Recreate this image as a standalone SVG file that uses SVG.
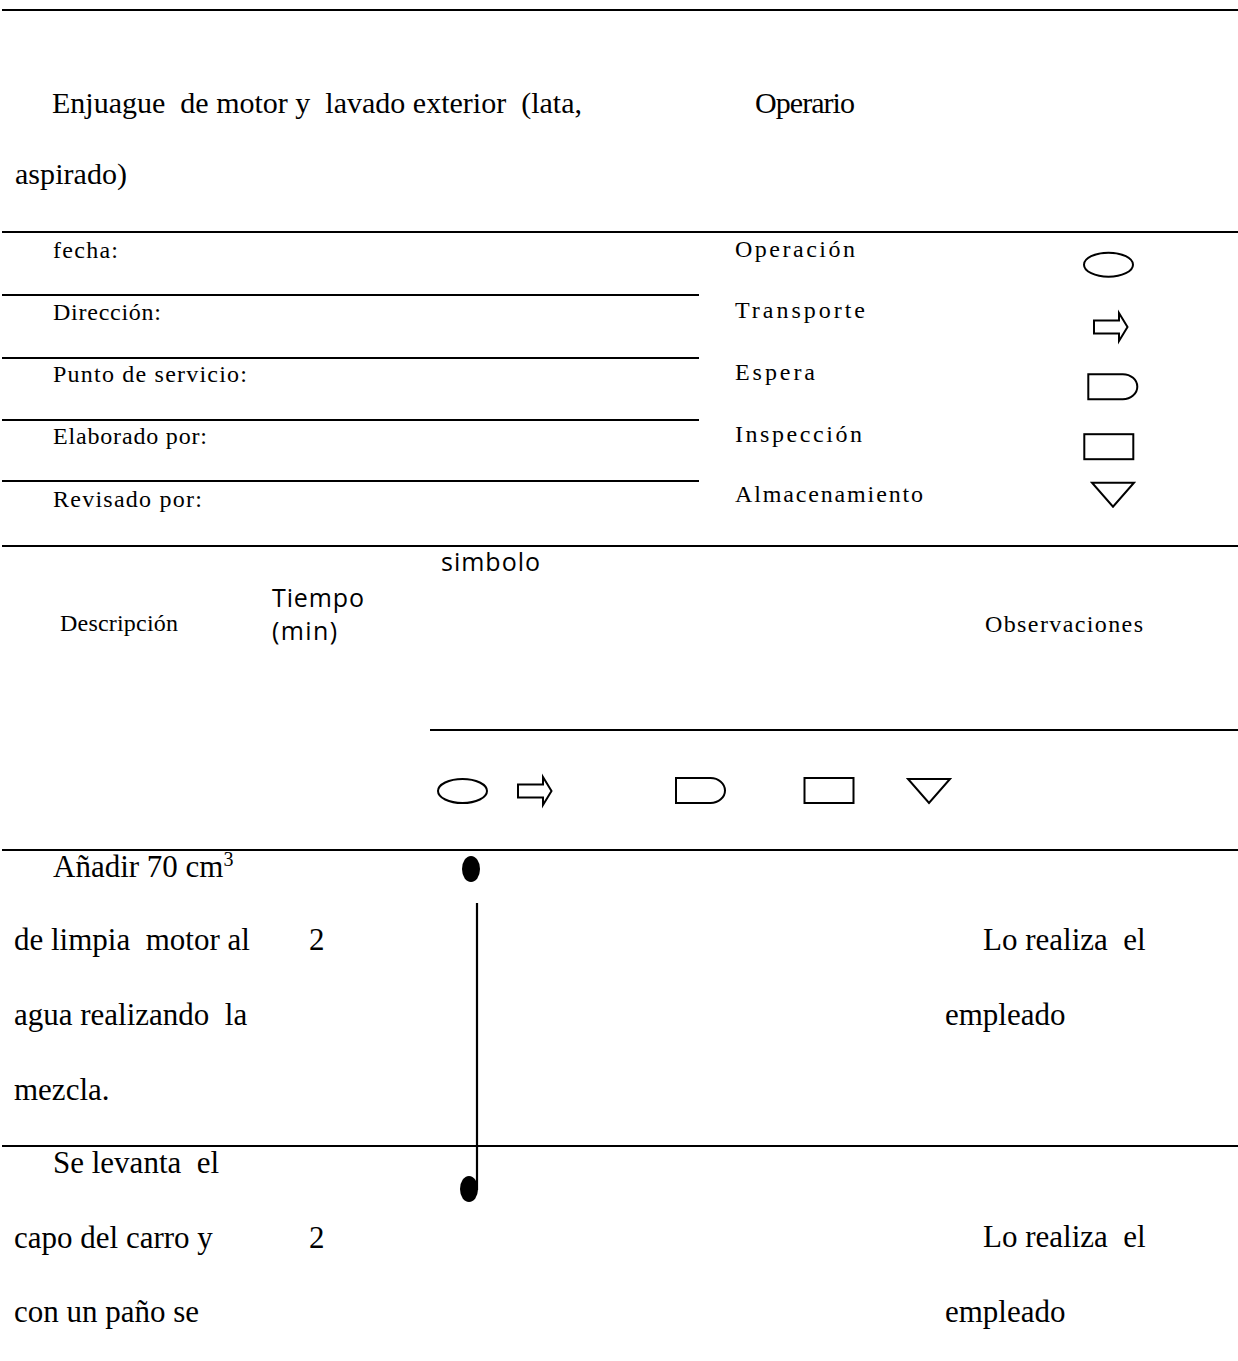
<svg xmlns="http://www.w3.org/2000/svg" xmlns:xlink="http://www.w3.org/1999/xlink" width="1238" height="1361" viewBox="0 0 1238 1361">
  <style>
    .rule { stroke: #000; stroke-width: 2.2; fill: none; }
    .sym { stroke: #000; stroke-width: 2; fill: #fff; }
    .serif { font-family: "Liberation Serif", "Times New Roman", serif; fill: #000; }
    .sans { font-family: "Open Sans", "Liberation Sans", sans-serif; fill: #000; }
    .title { font-size: 30px; }
    .lbl { font-size: 24px; }
    .body { font-size: 31px; }
    .head { font-size: 25px; }
    .dot { fill: #000; stroke: none; }
    .flow { stroke: #000; stroke-width: 2.2; fill: none; }
  </style>
  <defs>
    <!-- process-chart symbols, drawn around their own centre -->
    <ellipse id="s-op" class="sym" cx="0" cy="0" rx="24.5" ry="12"/>
    <path id="s-tr" class="sym" d="M -14 -6.5 H 11 V -14 L 19.5 0 L 11 14 V 6.5 H -14 Z"/>
    <path id="s-wait" class="sym" d="M -24.5 -12.5 H 10 A 14.5 12.5 0 0 1 10 12.5 H -24.5 Z"/>
    <rect id="s-insp" class="sym" x="-24.5" y="-12.5" width="49" height="25"/>
    <path id="s-store" class="sym" d="M -21 -12 L 21 -12 L 0 12 Z"/>
  </defs>

  <rect x="0" y="0" width="1238" height="1361" fill="#fff"/>

  <!-- table rules -->
  <g id="rules">
    <line class="rule" x1="2" y1="10" x2="1238" y2="10"/>
    <line class="rule" x1="2" y1="232" x2="1238" y2="232"/>
    <line class="rule" x1="2" y1="295" x2="699" y2="295"/>
    <line class="rule" x1="2" y1="358" x2="699" y2="358"/>
    <line class="rule" x1="2" y1="420" x2="699" y2="420"/>
    <line class="rule" x1="2" y1="481" x2="699" y2="481"/>
    <line class="rule" x1="2" y1="546" x2="1238" y2="546"/>
    <line class="rule" x1="430" y1="730" x2="1238" y2="730"/>
    <line class="rule" x1="2" y1="850" x2="1238" y2="850"/>
    <line class="rule" x1="2" y1="1146" x2="1238" y2="1146"/>
  </g>

  <!-- heading -->
  <g id="heading">
    <text class="serif title" x="52" y="113" textLength="530" xml:space="preserve">Enjuague  de motor y  lavado exterior  (lata,</text>
    <text class="serif title" x="755" y="113" textLength="100">Operario</text>
    <text class="serif title" x="15" y="184" textLength="112">aspirado)</text>
  </g>

  <!-- form fields -->
  <g id="fields">
    <text class="serif lbl" x="53" y="258" textLength="65">fecha:</text>
    <text class="serif lbl" x="53" y="320" textLength="108">Dirección:</text>
    <text class="serif lbl" x="53" y="382" textLength="194">Punto de servicio:</text>
    <text class="serif lbl" x="53" y="444" textLength="154">Elaborado por:</text>
    <text class="serif lbl" x="53" y="507" textLength="149">Revisado por:</text>
  </g>

  <!-- symbol key -->
  <g id="legend">
    <text class="serif lbl" x="735" y="257" textLength="120">Operación</text>
    <text class="serif lbl" x="735" y="318" textLength="130">Transporte</text>
    <text class="serif lbl" x="735" y="380" textLength="80">Espera</text>
    <text class="serif lbl" x="735" y="442" textLength="127">Inspección</text>
    <text class="serif lbl" x="735" y="502" textLength="188">Almacenamiento</text>
    <use xlink:href="#s-op" x="1108.5" y="264.7"/>
    <use xlink:href="#s-tr" x="1108" y="327"/>
    <use xlink:href="#s-wait" x="1112.8" y="386.7"/>
    <use xlink:href="#s-insp" x="1108.8" y="446.7"/>
    <use xlink:href="#s-store" x="1113" y="494.7"/>
  </g>

  <!-- column headers -->
  <g id="columns">
    <text class="serif lbl" x="60" y="631" textLength="118">Descripción</text>
    <text class="sans head" x="272" y="607" textLength="92">Tiempo</text>
    <text class="sans head" x="272" y="640" textLength="65">(min)</text>
    <text class="sans head" x="441" y="571" textLength="99">simbolo</text>
    <text class="serif lbl" x="985" y="632" textLength="158">Observaciones</text>
    <use xlink:href="#s-op" x="462.5" y="791"/>
    <use xlink:href="#s-tr" x="532" y="791"/>
    <use xlink:href="#s-wait" x="700.5" y="790.5"/>
    <use xlink:href="#s-insp" x="829" y="790.5"/>
    <use xlink:href="#s-store" x="929" y="791"/>
  </g>

  <!-- step 1 -->
  <g id="step-1">
    <text class="serif body" x="53" y="877">Añadir  70 cm<tspan font-size="20" dy="-11">3</tspan></text>
    <text class="serif body" x="14" y="950" xml:space="preserve">de limpia  motor al</text>
    <text class="serif body" x="14" y="1025" xml:space="preserve">agua realizando  la</text>
    <text class="serif body" x="14" y="1100">mezcla.</text>
    <text class="serif body" x="309" y="950">2</text>
    <text class="serif body" x="983" y="950" xml:space="preserve">Lo realiza  el</text>
    <text class="serif body" x="945" y="1025">empleado</text>
    <ellipse class="dot" cx="471" cy="869" rx="9" ry="13"/>
  </g>

  <!-- step 2 -->
  <g id="step-2">
    <text class="serif body" x="53" y="1173" xml:space="preserve">Se levanta  el</text>
    <text class="serif body" x="14" y="1248">capo del carro y</text>
    <text class="serif body" x="14" y="1322">con un paño se</text>
    <text class="serif body" x="309" y="1248">2</text>
    <text class="serif body" x="983" y="1247" xml:space="preserve">Lo realiza  el</text>
    <text class="serif body" x="945" y="1322">empleado</text>
    <ellipse class="dot" cx="469" cy="1189" rx="9" ry="13"/>
  </g>

  <!-- connectors -->
  <g id="connectors">
    <line class="flow" x1="477" y1="903" x2="477" y2="1190"/>
  </g>
</svg>
